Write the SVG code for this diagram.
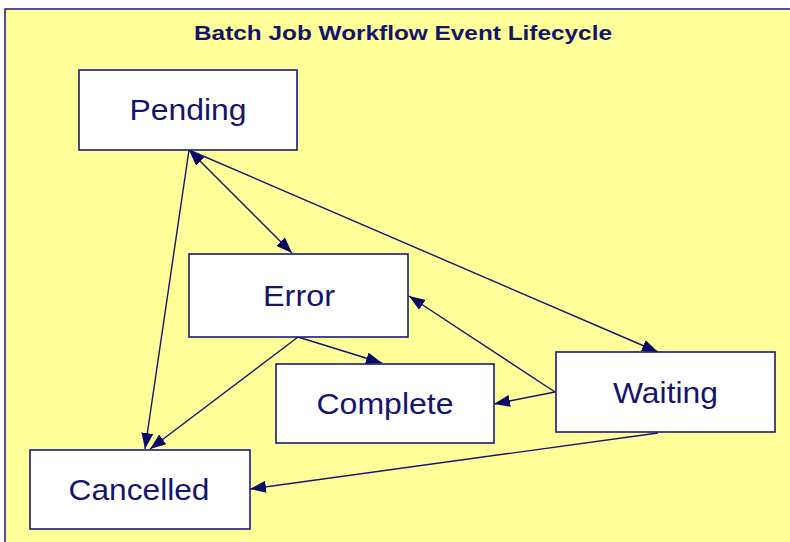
<svg xmlns="http://www.w3.org/2000/svg" width="790" height="542" viewBox="0 0 790 542">
<style>
.node rect{fill:#ffffff;stroke:#1a1a78;stroke-width:1.6}
.node text{font-family:"Liberation Sans",Arial,sans-serif;font-size:29px;fill:#14146e;text-anchor:middle}
.title{font-family:"Liberation Sans",Arial,sans-serif;font-size:20px;font-weight:bold;fill:#14146e;text-anchor:middle}
.conn line{stroke:#14146e;stroke-width:1.4;fill:none}
</style>
<defs>
<marker id="ah" viewBox="0 0 16 12" refX="16" refY="6" markerWidth="16" markerHeight="12" markerUnits="userSpaceOnUse" orient="auto-start-reverse">
<path d="M0,0 L16,6 L0,12 Z" fill="#0a0a64"/>
</marker>
</defs>
<rect x="0" y="0" width="790" height="542" fill="#ffffff"/>
<rect x="5" y="9" width="800" height="560" fill="#ffff99" stroke="#1a1a78" stroke-width="1.5"/>
<text class="title" x="403" y="40" textLength="418" lengthAdjust="spacingAndGlyphs">Batch Job Workflow Event Lifecycle</text>
<g id="connectors" class="conn">
<line x1="189" y1="150" x2="292" y2="253" marker-start="url(#ah)" marker-end="url(#ah)"/>
<line x1="189" y1="150" x2="658" y2="352" marker-end="url(#ah)"/>
<line x1="189" y1="150" x2="145" y2="449" marker-end="url(#ah)"/>
<line x1="298" y1="337" x2="150" y2="449" marker-end="url(#ah)"/>
<line x1="298" y1="337" x2="382" y2="363" marker-end="url(#ah)"/>
<line x1="555" y1="392" x2="409" y2="296" marker-end="url(#ah)"/>
<line x1="555" y1="392" x2="494" y2="404" marker-end="url(#ah)"/>
<line x1="658" y1="433" x2="250" y2="489" marker-end="url(#ah)"/>
</g>
<g id="pending" class="node">
<rect x="79" y="70" width="218" height="80"/>
<text x="188" y="120" textLength="117" lengthAdjust="spacingAndGlyphs">Pending</text>
</g>
<g id="error" class="node">
<rect x="189" y="254" width="219" height="83"/>
<text x="299" y="306" textLength="72" lengthAdjust="spacingAndGlyphs">Error</text>
</g>
<g id="complete" class="node">
<rect x="276" y="364" width="218" height="79"/>
<text x="385" y="414" textLength="137" lengthAdjust="spacingAndGlyphs">Complete</text>
</g>
<g id="waiting" class="node">
<rect x="556" y="352" width="219" height="80"/>
<text x="665.5" y="403" textLength="105" lengthAdjust="spacingAndGlyphs">Waiting</text>
</g>
<g id="cancelled" class="node">
<rect x="30" y="450" width="220" height="79"/>
<text x="139" y="500" textLength="141" lengthAdjust="spacingAndGlyphs">Cancelled</text>
</g>
</svg>
